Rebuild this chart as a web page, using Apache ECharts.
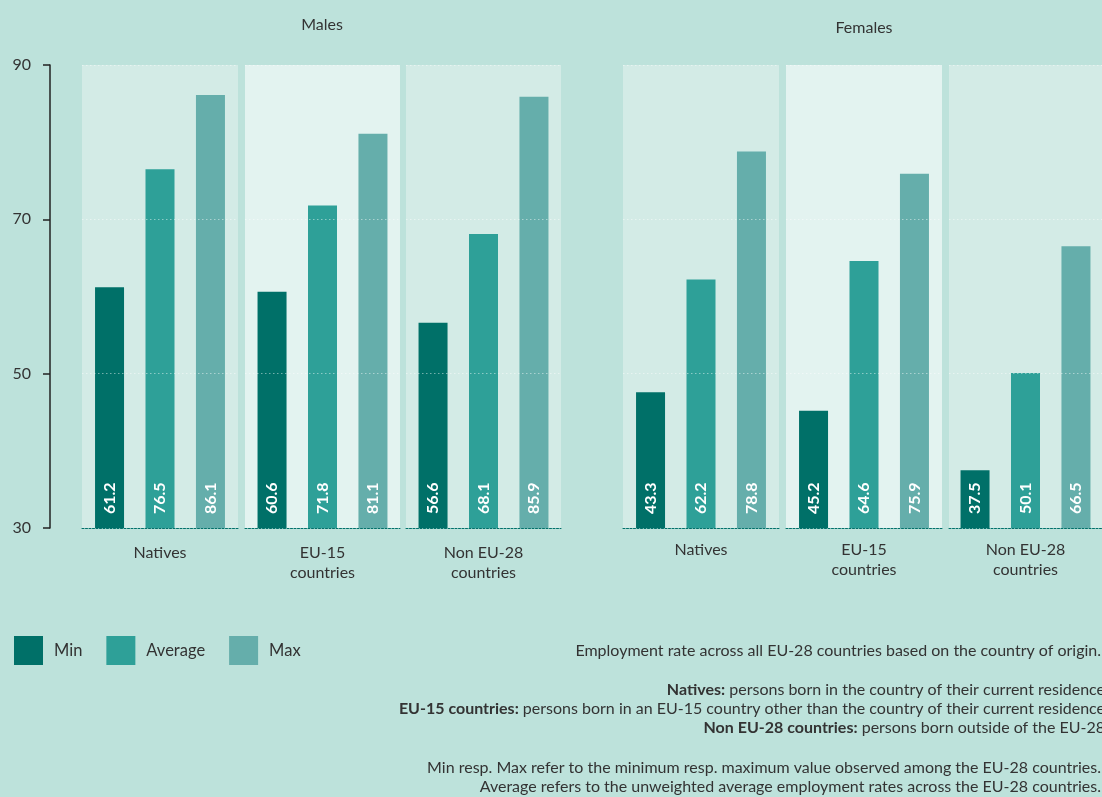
<!DOCTYPE html>
<html>
<head>
<meta charset="utf-8">
<script src="https://cdn.jsdelivr.net/npm/echarts@6/dist/echarts.min.js"></script>
<style>
html,body{margin:0;padding:0;background:#bde2db;overflow:hidden;}
#chart{width:1102px;height:797px;}
</style>
</head>
<body>
<div id="chart"></div>
<script>
const categories = ['Natives', 'EU-15\ncountries', 'Non EU-28\ncountries'];
const groupTitles = ['Males', 'Females'];
const seriesNames = ['Min', 'Average', 'Max'];
const maleMin = [61.2, 60.6, 56.6];
const maleAvg = [76.5, 71.8, 68.1];
const maleMax = [86.1, 81.1, 85.9];
const femaleMin = [47.6, 45.2, 37.5];      // bar heights as drawn
const femaleMinText = ['43.3', '45.2', '37.5']; // labels as printed
const femaleAvg = [62.2, 64.6, 50.1];
const femaleMax = [78.8, 75.9, 66.5];
const yMin = 30, yMax = 90, yInterval = 20;
const noteTitle = 'Employment rate across all EU-28 countries based on the country of origin.';
const noteDefs = [
  ['Natives:', ' persons born in the country of their current residence'],
  ['EU-15 countries:', ' persons born in an EU-15 country other than the country of their current residence'],
  ['Non EU-28 countries:', ' persons born outside of the EU-28']
];
const noteFoot = [
  'Min resp. Max refer to the minimum resp. maximum value observed among the EU-28 countries.',
  'Average refers to the unweighted average employment rates across the EU-28 countries.'
];

const colors = ['#007068', '#2ea098', '#65aeab'];
const FONT = 'Lato, "Noto Sans", sans-serif';
const FS = 16;
const gridLefts = [82, 245, 406, 623, 786, 949];
const gridWidths = [156, 155, 155, 156, 156, 156];
const panelBg = ['#d3ebe6', '#e3f3f0', '#d3ebe6'];

const data = [
  [maleMin, maleAvg, maleMax],
  [femaleMin, femaleAvg, femaleMax]
];
const labelTexts = [
  [null, null, null],
  [femaleMinText, null, null]
];

const grids = [], xAxes = [], yAxes = [], series = [];
for (let g = 0; g < 2; g++) {
  for (let c = 0; c < 3; c++) {
    const i = g * 3 + c;
    grids.push({
      left: gridLefts[i], top: 65, width: gridWidths[i], height: 463,
      show: true, backgroundColor: panelBg[c], borderWidth: 0
    });
    xAxes.push({
      type: 'category', gridIndex: i, data: [categories[c]], z: 5,
      axisLine: { lineStyle: { color: '#00706a', width: 1, type: [2, 1.5] } },
      axisTick: { show: false },
      axisLabel: { fontSize: FS, color: '#333', fontFamily: FONT, lineHeight: 20, margin: g === 0 ? 15 : 12 }
    });
    const first = i === 0;
    yAxes.push({
      type: 'value', gridIndex: i, min: yMin, max: yMax, interval: yInterval, z: 3,
      offset: first ? 32 : 0,
      splitLine: { show: true, showMinLine: false, lineStyle: { color: 'rgba(255,255,255,0.45)', width: 1, type: [1.5, 2.5] } },
      axisLine: { show: first, lineStyle: { color: '#222', width: 1.5 } },
      axisTick: { show: first, length: 7, lineStyle: { color: '#222', width: 1.5 } },
      axisLabel: { show: first, fontSize: FS, color: '#333', fontFamily: FONT, margin: 19 }
    });
    for (let s = 0; s < 3; s++) {
      const txt = labelTexts[g][s];
      series.push({
        type: 'bar', name: seriesNames[s], xAxisIndex: i, yAxisIndex: i,
        data: [data[g][s][c]],
        barWidth: 29, barGap: '74%',
        itemStyle: { color: colors[s] },
        label: {
          show: true, position: 'insideBottom', rotate: 90, align: 'left', verticalAlign: 'middle',
          distance: 14, color: '#fff', fontSize: 16, fontWeight: 'bold', fontFamily: FONT,
          formatter: txt ? (() => txt[c]) : (p => p.value.toFixed(1))
        }
      });
    }
  }
}

const graphics = [
  { type: 'text', x: 322, y: 25, style: { text: groupTitles[0], align: 'center', verticalAlign: 'middle', fontSize: FS, fontFamily: FONT, fill: '#333' } },
  { type: 'text', x: 864, y: 28, style: { text: groupTitles[1], align: 'center', verticalAlign: 'middle', fontSize: FS, fontFamily: FONT, fill: '#333' } },
  { type: 'text', x: 1101, y: 651, style: { text: noteTitle, align: 'right', verticalAlign: 'middle', fontSize: FS, fontFamily: FONT, fill: '#333' } }
];
const defYs = [690, 709, 728];
noteDefs.forEach((d, k) => {
  graphics.push({
    type: 'text', x: 1105, y: defYs[k],
    style: {
      text: '{b|' + d[0] + '}{n|' + d[1] + '}', align: 'right', verticalAlign: 'middle',
      fontSize: FS, fontFamily: FONT, fill: '#333',
      rich: {
        b: { fontWeight: 'bold', fontSize: FS, fontFamily: FONT, fill: '#333' },
        n: { fontSize: FS, fontFamily: FONT, fill: '#333' }
      }
    }
  });
});
const footYs = [768, 787];
noteFoot.forEach((t, k) => {
  graphics.push({ type: 'text', x: 1101, y: footYs[k], style: { text: t, align: 'right', verticalAlign: 'middle', fontSize: FS, fontFamily: FONT, fill: '#333' } });
});

const chart = echarts.init(document.getElementById('chart'), null, { renderer: 'canvas' });
chart.setOption({
  backgroundColor: '#bde2db',
  animation: false,
  textStyle: { fontFamily: FONT },
  legend: {
    data: seriesNames, left: 14, top: 636, padding: 0, itemWidth: 29, itemHeight: 29, itemGap: 24, icon: 'rect',
    textStyle: { fontSize: 16.5, color: '#333', fontFamily: FONT, padding: [0, 0, 0, 6] }
  },
  grid: grids, xAxis: xAxes, yAxis: yAxes, series: series,
  graphic: graphics
});
</script>
</body>
</html>
